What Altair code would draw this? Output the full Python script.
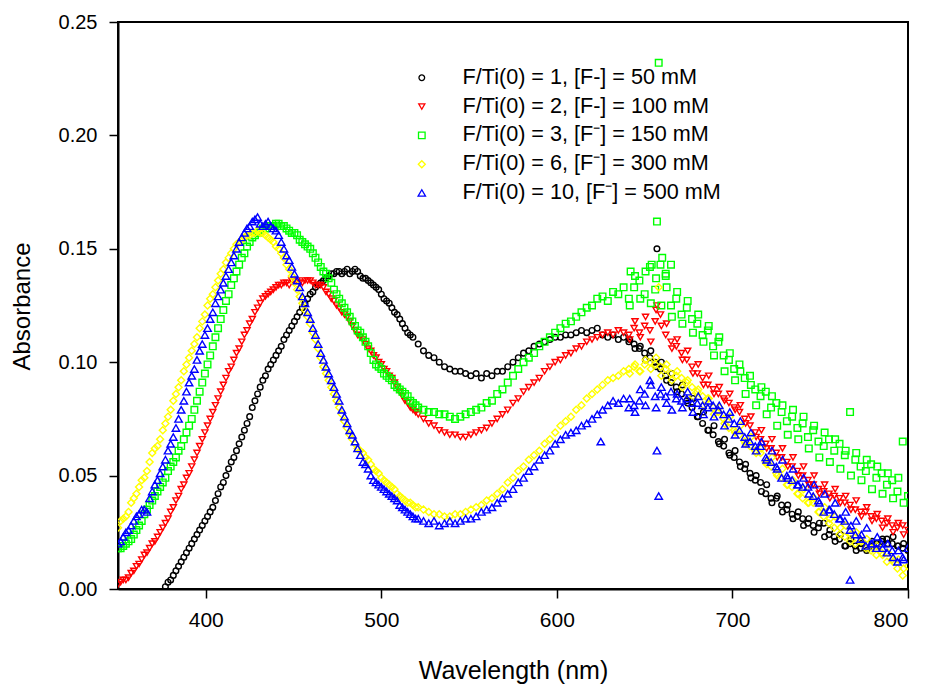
import altair as alt
import pandas as pd

LABELS = [
    "F/Ti(0) = 1, [F-] = 50 mM",
    "F/Ti(0) = 2, [F-] = 100 mM",
    "F/Ti(0) = 3, [F\u207b] = 150 mM",
    "F/Ti(0) = 6, [F\u207b] = 300 mM",
    "F/Ti(0) = 10, [F\u207b] = 500 mM",
]
COLORS = ["#000000", "#ff0000", "#00ff00", "#ffff00", "#0000ff"]
SHAPES = ["circle", "triangle-down", "square", "diamond", "triangle-up"]

# ---- main readings, every 3 nm (black from 377 nm, the others from 350 nm) ----
abs_1 = [
    0.001, 0.004, 0.008, 0.012, 0.016, 0.020, 0.024, 0.028, 0.032, 0.036,
    0.042, 0.047, 0.053, 0.058, 0.064, 0.070, 0.076, 0.083, 0.089, 0.094,
    0.099, 0.103, 0.107, 0.112, 0.116, 0.120, 0.124, 0.128, 0.131, 0.134,
    0.136, 0.138, 0.139, 0.140, 0.140, 0.139, 0.141, 0.138, 0.137, 0.135,
    0.133, 0.130, 0.127, 0.124, 0.121, 0.117, 0.113, 0.111, 0.108, 0.105,
    0.103, 0.102, 0.100, 0.098, 0.097, 0.096, 0.096, 0.095, 0.094, 0.095,
    0.093, 0.095, 0.094, 0.096, 0.096, 0.098, 0.100, 0.102, 0.104, 0.105,
    0.107, 0.108, 0.109, 0.110, 0.111, 0.111, 0.112, 0.112, 0.113, 0.114,
    0.113, 0.114, 0.115, 0.112, 0.111, 0.112, 0.110, 0.111, 0.109, 0.108,
    0.106, 0.104, 0.102, 0.100, 0.097, 0.094, 0.091, 0.089, 0.086, 0.083,
    0.080, 0.076, 0.073, 0.070, 0.068, 0.065, 0.063, 0.060, 0.058, 0.056,
    0.053, 0.051, 0.048, 0.047, 0.042, 0.040, 0.040, 0.037, 0.035, 0.033,
    0.032, 0.031, 0.029, 0.028, 0.027, 0.029, 0.024, 0.023, 0.022, 0.019,
    0.020, 0.019, 0.018, 0.018, 0.019, 0.020, 0.021, 0.022, 0.020, 0.019,
    0.018, 0.017,
]
abs_2 = [
    0.002, 0.004, 0.005, 0.008, 0.011, 0.015, 0.018, 0.021, 0.025, 0.029,
    0.034, 0.039, 0.044, 0.049, 0.054, 0.060, 0.066, 0.072, 0.078, 0.084,
    0.090, 0.096, 0.101, 0.106, 0.112, 0.117, 0.122, 0.126, 0.129, 0.131,
    0.133, 0.134, 0.135, 0.136, 0.136, 0.135, 0.136, 0.135, 0.134, 0.133,
    0.130, 0.127, 0.124, 0.121, 0.118, 0.114, 0.111, 0.108, 0.105, 0.102,
    0.099, 0.096, 0.093, 0.089, 0.085, 0.082, 0.079, 0.077, 0.075, 0.073,
    0.072, 0.070, 0.069, 0.068, 0.068, 0.067, 0.067, 0.068, 0.069, 0.070,
    0.071, 0.073, 0.075, 0.077, 0.079, 0.082, 0.084, 0.087, 0.089, 0.091,
    0.093, 0.096, 0.098, 0.100, 0.101, 0.103, 0.104, 0.106, 0.107, 0.109,
    0.110, 0.111, 0.112, 0.113, 0.112, 0.114, 0.113, 0.112, 0.115, 0.113,
    0.116, 0.114, 0.118, 0.121, 0.112, 0.109, 0.107, 0.104, 0.101, 0.098,
    0.095, 0.093, 0.090, 0.088, 0.086, 0.084, 0.082, 0.080, 0.078, 0.075,
    0.072, 0.069, 0.066, 0.064, 0.062, 0.060, 0.058, 0.056, 0.054, 0.052,
    0.050, 0.048, 0.046, 0.044, 0.043, 0.042, 0.041, 0.040, 0.038, 0.037,
    0.035, 0.034, 0.034, 0.032, 0.031, 0.030, 0.029, 0.028, 0.027, 0.028,
    0.026,
]
abs_3 = [
    0.018, 0.019, 0.021, 0.024, 0.028, 0.033, 0.037, 0.041, 0.045, 0.049,
    0.054, 0.058, 0.063, 0.069, 0.075, 0.083, 0.091, 0.099, 0.107, 0.115,
    0.123, 0.130, 0.137, 0.143, 0.148, 0.153, 0.156, 0.158, 0.159, 0.160,
    0.161, 0.160, 0.159, 0.157, 0.156, 0.153, 0.151, 0.148, 0.144, 0.140,
    0.137, 0.132, 0.128, 0.124, 0.120, 0.116, 0.113, 0.109, 0.104, 0.099,
    0.097, 0.094, 0.092, 0.089, 0.087, 0.085, 0.082, 0.080, 0.079, 0.078,
    0.078, 0.077, 0.077, 0.076, 0.075, 0.076, 0.077, 0.078, 0.079, 0.080,
    0.082, 0.083, 0.086, 0.088, 0.091, 0.094, 0.097, 0.100, 0.102, 0.104,
    0.107, 0.109, 0.111, 0.113, 0.115, 0.117, 0.118, 0.120, 0.122, 0.124,
    0.125, 0.128, 0.129, 0.127, 0.131, 0.130, 0.133, 0.128, 0.133, 0.136,
    0.130, 0.142, 0.132, 0.143, 0.138, 0.125, 0.128, 0.121, 0.124, 0.119,
    0.117, 0.112, 0.114, 0.107, 0.109, 0.103, 0.101, 0.097, 0.099, 0.093,
    0.094, 0.088, 0.085, 0.087, 0.080, 0.082, 0.078, 0.074, 0.076, 0.071,
    0.073, 0.067, 0.070, 0.065, 0.063, 0.066, 0.061, 0.064, 0.059, 0.078,
    0.057, 0.054, 0.052, 0.055, 0.049, 0.051, 0.046, 0.048, 0.043, 0.065,
    0.041,
]
abs_6 = [
    0.027, 0.031, 0.034, 0.040, 0.045, 0.049, 0.056, 0.062, 0.066, 0.073,
    0.079, 0.086, 0.092, 0.099, 0.105, 0.111, 0.118, 0.125, 0.130, 0.136,
    0.141, 0.146, 0.150, 0.153, 0.155, 0.156, 0.157, 0.157, 0.156, 0.154,
    0.151, 0.148, 0.143, 0.138, 0.132, 0.126, 0.120, 0.113, 0.106, 0.098,
    0.092, 0.086, 0.080, 0.074, 0.068, 0.064, 0.061, 0.058, 0.055, 0.052,
    0.049, 0.047, 0.045, 0.042, 0.040, 0.038, 0.037, 0.036, 0.035, 0.034,
    0.033, 0.033, 0.032, 0.032, 0.033, 0.033, 0.034, 0.035, 0.036, 0.037,
    0.039, 0.040, 0.042, 0.044, 0.047, 0.049, 0.052, 0.054, 0.057, 0.059,
    0.061, 0.064, 0.066, 0.069, 0.072, 0.074, 0.076, 0.079, 0.081, 0.084,
    0.086, 0.088, 0.090, 0.092, 0.093, 0.094, 0.096, 0.097, 0.098, 0.096,
    0.099, 0.100, 0.099, 0.098, 0.097, 0.095, 0.094, 0.093, 0.091, 0.089,
    0.087, 0.085, 0.084, 0.080, 0.078, 0.075, 0.071, 0.070, 0.068, 0.065,
    0.063, 0.061, 0.060, 0.056, 0.054, 0.051, 0.049, 0.046, 0.045, 0.042,
    0.040, 0.038, 0.038, 0.034, 0.032, 0.029, 0.027, 0.024, 0.023, 0.021,
    0.020, 0.021, 0.018, 0.017, 0.015, 0.016, 0.012, 0.013, 0.009, 0.006,
    0.010,
]
abs_10 = [
    0.020, 0.023, 0.026, 0.030, 0.033, 0.035, 0.040, 0.046, 0.051, 0.057,
    0.064, 0.071, 0.079, 0.087, 0.094, 0.101, 0.108, 0.115, 0.122, 0.129,
    0.135, 0.141, 0.147, 0.153, 0.157, 0.160, 0.163, 0.161, 0.161, 0.160,
    0.158, 0.153, 0.147, 0.142, 0.136, 0.129, 0.122, 0.115, 0.108, 0.101,
    0.095, 0.089, 0.083, 0.076, 0.070, 0.065, 0.059, 0.055, 0.050, 0.047,
    0.045, 0.043, 0.041, 0.039, 0.036, 0.034, 0.032, 0.031, 0.030, 0.029,
    0.030, 0.028, 0.029, 0.030, 0.029, 0.030, 0.031, 0.031, 0.032, 0.034,
    0.035, 0.036, 0.038, 0.040, 0.042, 0.044, 0.047, 0.049, 0.052, 0.054,
    0.057, 0.059, 0.061, 0.064, 0.066, 0.068, 0.069, 0.070, 0.072, 0.073,
    0.075, 0.077, 0.079, 0.081, 0.083, 0.082, 0.084, 0.080, 0.081, 0.083,
    0.086, 0.092, 0.085, 0.086, 0.085, 0.087, 0.084, 0.083, 0.084, 0.082,
    0.082, 0.081, 0.080, 0.081, 0.079, 0.077, 0.075, 0.073, 0.070, 0.067,
    0.065, 0.063, 0.063, 0.058, 0.056, 0.054, 0.049, 0.050, 0.048, 0.046,
    0.045, 0.045, 0.041, 0.039, 0.034, 0.035, 0.033, 0.031, 0.030, 0.026,
    0.024, 0.022, 0.019, 0.020, 0.018, 0.020, 0.016, 0.017, 0.012, 0.014,
    0.018,
]

# ---- in-between readings on the steep first band (every 3 nm, offset 1.5 nm) ----
mid_1 = [  # from 378.5 nm
    0.003, 0.006, 0.010, 0.014, 0.018, 0.022, 0.026, 0.030, 0.034, 0.039,
    0.045, 0.050, 0.056, 0.061, 0.067, 0.073, 0.080, 0.086, 0.092, 0.097,
    0.101, 0.105, 0.110, 0.114, 0.118, 0.122, 0.126, 0.130, 0.133, 0.135,
    0.137, 0.139, 0.140, 0.139, 0.141, 0.140, 0.140, 0.137, 0.136, 0.134,
    0.132, 0.128, 0.126, 0.122, 0.119, 0.115, 0.112,
]
mid_2 = [  # from 351.5 nm
    0.003, 0.004, 0.007, 0.010, 0.013, 0.016, 0.020, 0.023, 0.027, 0.031,
    0.036, 0.041, 0.046, 0.051, 0.057, 0.063, 0.069, 0.075, 0.081, 0.087,
    0.093, 0.098, 0.104, 0.109, 0.114, 0.119, 0.124, 0.128, 0.130, 0.132,
    0.134, 0.135, 0.134, 0.136, 0.135, 0.136, 0.136, 0.134, 0.134, 0.131,
    0.128, 0.125, 0.122, 0.120, 0.116, 0.112, 0.110, 0.106, 0.103, 0.100,
    0.097, 0.094, 0.091, 0.087, 0.083, 0.080, 0.078,
]
mid_3 = [
    0.018, 0.020, 0.022, 0.026, 0.030, 0.035, 0.039, 0.043, 0.047, 0.052,
    0.056, 0.061, 0.066, 0.072, 0.079, 0.087, 0.095, 0.103, 0.111, 0.119,
    0.127, 0.134, 0.140, 0.146, 0.151, 0.155, 0.157, 0.159, 0.160, 0.160,
    0.161, 0.160, 0.158, 0.157, 0.154, 0.152, 0.150, 0.146, 0.142, 0.139,
    0.135, 0.130, 0.126, 0.122, 0.118, 0.114, 0.111, 0.107, 0.101, 0.098,
    0.095, 0.093, 0.090, 0.088, 0.086, 0.083, 0.081,
]
mid_6 = [
    0.030, 0.032, 0.038, 0.042, 0.048, 0.052, 0.060, 0.063, 0.070, 0.076,
    0.083, 0.089, 0.096, 0.102, 0.108, 0.115, 0.121, 0.128, 0.133, 0.139,
    0.144, 0.148, 0.152, 0.154, 0.156, 0.157, 0.158, 0.157, 0.155, 0.153,
    0.150, 0.146, 0.141, 0.135, 0.129, 0.123, 0.117, 0.110, 0.102, 0.095,
    0.089, 0.083, 0.077, 0.071, 0.066, 0.062, 0.060, 0.057, 0.053, 0.051,
    0.048, 0.046, 0.044, 0.041, 0.039, 0.038, 0.036,
]
mid_10 = [
    0.021, 0.025, 0.028, 0.032, 0.035, 0.034, 0.043, 0.048, 0.054, 0.061,
    0.067, 0.075, 0.083, 0.091, 0.097, 0.105, 0.112, 0.119, 0.126, 0.132,
    0.138, 0.144, 0.150, 0.155, 0.159, 0.162, 0.164, 0.160, 0.162, 0.159,
    0.156, 0.150, 0.145, 0.139, 0.133, 0.126, 0.119, 0.112, 0.104, 0.098,
    0.092, 0.086, 0.079, 0.073, 0.068, 0.062, 0.056, 0.053, 0.048, 0.046,
    0.044, 0.042, 0.040, 0.037, 0.035, 0.033, 0.031,
]

# ---- in-between readings on the noisy red end (from 641.5 nm, every 3 nm) ----
tail_1 = [
    0.110, 0.106, 0.107, 0.101, 0.105, 0.098, 0.100, 0.092, 0.095, 0.087,
    0.090, 0.082, 0.084, 0.076, 0.078, 0.070, 0.072, 0.064, 0.066, 0.059,
    0.061, 0.054, 0.055, 0.049, 0.050, 0.043, 0.046, 0.038, 0.041, 0.034,
    0.037, 0.031, 0.034, 0.028, 0.031, 0.025, 0.029, 0.023, 0.026, 0.021,
    0.024, 0.019, 0.022, 0.017, 0.020, 0.017, 0.021, 0.019, 0.022, 0.020,
    0.023, 0.019, 0.020,
]
tail_2 = [
    0.110, 0.118, 0.111, 0.120, 0.109, 0.123, 0.116, 0.117, 0.106, 0.110,
    0.101, 0.105, 0.095, 0.099, 0.090, 0.094, 0.086, 0.089, 0.083, 0.086,
    0.079, 0.081, 0.073, 0.076, 0.067, 0.070, 0.062, 0.066, 0.058, 0.062,
    0.054, 0.058, 0.050, 0.054, 0.046, 0.050, 0.042, 0.046, 0.040, 0.044,
    0.038, 0.041, 0.035, 0.039, 0.032, 0.036, 0.030, 0.033, 0.027, 0.031,
    0.025, 0.029, 0.024,
]
tail_3 = [
    0.125, 0.138, 0.128, 0.140, 0.126, 0.137, 0.125, 0.133, 0.120, 0.131,
    0.117, 0.127, 0.113, 0.121, 0.109, 0.116, 0.103, 0.111, 0.096, 0.104,
    0.092, 0.096, 0.086, 0.090, 0.081, 0.089, 0.077, 0.085, 0.072, 0.081,
    0.068, 0.079, 0.066, 0.076, 0.062, 0.072, 0.058, 0.069, 0.056, 0.066,
    0.053, 0.061, 0.050, 0.060, 0.048, 0.057, 0.044, 0.054, 0.042, 0.051,
    0.040, 0.049, 0.038,
]
tail_6 = [
    0.095, 0.099, 0.096, 0.101, 0.097, 0.102, 0.094, 0.099, 0.092, 0.096,
    0.089, 0.092, 0.085, 0.088, 0.081, 0.084, 0.077, 0.080, 0.073, 0.076,
    0.069, 0.072, 0.064, 0.067, 0.060, 0.062, 0.055, 0.058, 0.050, 0.053,
    0.046, 0.048, 0.042, 0.044, 0.038, 0.040, 0.034, 0.036, 0.031, 0.032,
    0.027, 0.028, 0.024, 0.025, 0.021, 0.022, 0.018, 0.019, 0.015, 0.016,
    0.012, 0.013, 0.009,
]
tail_10 = [
    0.084, 0.078, 0.088, 0.081, 0.090, 0.080, 0.089, 0.082, 0.079, 0.086,
    0.080, 0.087, 0.078, 0.085, 0.077, 0.083, 0.076, 0.081, 0.072, 0.078,
    0.068, 0.074, 0.064, 0.069, 0.061, 0.065, 0.057, 0.061, 0.053, 0.057,
    0.049, 0.053, 0.046, 0.049, 0.042, 0.046, 0.038, 0.042, 0.035, 0.038,
    0.031, 0.034, 0.028, 0.030, 0.024, 0.027, 0.020, 0.023, 0.018, 0.020,
    0.014, 0.017, 0.013,
]

# ---- stray readings away from the curves (wavelength, absorbance) ----
out_1_x, out_1_y = [657], [0.150]
out_2_x, out_2_y = [657], [0.125]
out_3_x = [642, 654, 660, 662, 665, 657, 658]
out_3_y = [0.140, 0.143, 0.146, 0.139, 0.143, 0.162, 0.232]
out_6_x, out_6_y = [658], [0.133]
out_10_x, out_10_y = [625, 657, 658, 767], [0.065, 0.061, 0.041, 0.004]


def grid(start, values):
    return [start + 3 * i for i in range(len(values))]


series = [
    (LABELS[0], [(377, abs_1), (378.5, mid_1), (641.5, tail_1)], (out_1_x, out_1_y)),
    (LABELS[1], [(350, abs_2), (351.5, mid_2), (641.5, tail_2)], (out_2_x, out_2_y)),
    (LABELS[2], [(350, abs_3), (351.5, mid_3), (641.5, tail_3)], (out_3_x, out_3_y)),
    (LABELS[3], [(350, abs_6), (351.5, mid_6), (641.5, tail_6)], (out_6_x, out_6_y)),
    (LABELS[4], [(350, abs_10), (351.5, mid_10), (641.5, tail_10)], (out_10_x, out_10_y)),
]
rows = []
for name, parts, (ox, oy) in series:
    for start, vals in parts:
        for x, y in zip(grid(start, vals), vals):
            rows.append({"wavelength": x, "absorbance": y, "series": name})
    for x, y in zip(ox, oy):
        rows.append({"wavelength": x, "absorbance": y, "series": name})
df = pd.DataFrame(rows)

FONT = "Liberation Sans"

chart = (
    alt.Chart(df)
    .mark_point(filled=False, strokeWidth=1.4, opacity=1, clip=True)
    .encode(
        x=alt.X(
            "wavelength:Q",
            scale=alt.Scale(domain=[350, 800], nice=False, zero=False),
            axis=alt.Axis(
                values=[400, 500, 600, 700, 800],
                title="Wavelength (nm)",
                labelFontSize=21,
                labelPadding=11,
                titleFontSize=25,
                titleY=89,
                titleBaseline="alphabetic",
            ),
        ),
        y=alt.Y(
            "absorbance:Q",
            scale=alt.Scale(domain=[0, 0.25], nice=False),
            axis=alt.Axis(
                values=[0, 0.05, 0.10, 0.15, 0.20, 0.25],
                format=".2f",
                title="Absorbance",
                labelFontSize=20,
                labelPadding=12,
                titleFontSize=24,
                titleX=-89,
                titleY=284,
                titleAngle=-90,
                titleAlign="center",
                titleBaseline="alphabetic",
            ),
        ),
        color=alt.Color(
            "series:N",
            scale=alt.Scale(domain=LABELS, range=COLORS),
            legend=alt.Legend(
                title=None,
                orient="none",
                legendX=293,
                legendY=45,
                labelFontSize=21.6,
                labelFont=FONT,
                labelColor="black",
                symbolSize=30,
                symbolStrokeWidth=1.3,
                symbolFillColor="transparent",
                rowPadding=5.8,
                labelOffset=30,
                padding=0,
                labelLimit=400,
            ),
        ),
        shape=alt.Shape("series:N", scale=alt.Scale(domain=LABELS, range=SHAPES)),
        size=alt.Size(
            "series:N",
            scale=alt.Scale(domain=LABELS, range=[32, 55, 55, 55, 55]),
            legend=None,
        ),
    )
    .properties(
        width=790,
        height=567,
        autosize=alt.AutoSizeParams(type="none"),
        padding={"left": 110, "top": 14, "right": 14, "bottom": 99},
        background="white",
    )
    .configure_view(stroke="black", strokeWidth=2)
    .configure_axis(
        grid=False,
        domainColor="black",
        domainWidth=2,
        tickColor="black",
        tickWidth=1.5,
        tickSize=9,
        labelFont=FONT,
        titleFont=FONT,
        labelColor="black",
        titleColor="black",
        titleFontWeight="normal",
    )
)

chart.save("out.html", embed_options={"renderer": "svg", "actions": False})
